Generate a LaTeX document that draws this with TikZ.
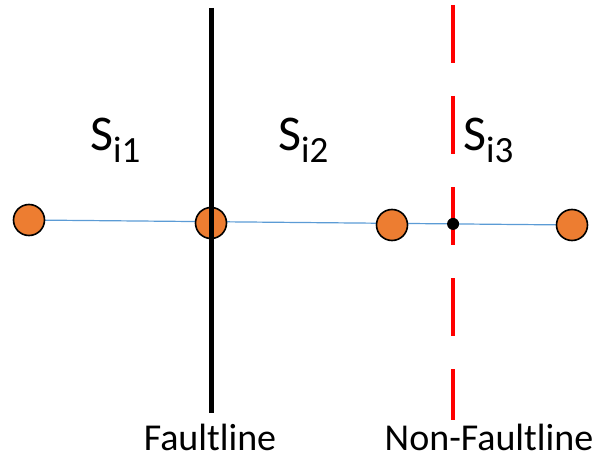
\documentclass[tikz,border=0pt]{standalone}
\usepackage{fontspec}
\setmainfont{Carlito}
\usetikzlibrary{calc}
\definecolor{cpoint}{HTML}{ED7D31}
\definecolor{cline}{HTML}{5B9BD5}
\newcommand{\segname}[1]{\fontsize{50}{50}\selectfont S\raisebox{-12pt}{\fontsize{37}{37}\selectfont #1}}

\begin{document}
\begin{tikzpicture}[x=1pt,y=-1pt,
    pt/.style={circle,draw=black,line width=1.6pt,fill=cpoint,minimum size=31pt,inner sep=0pt},
    lbl/.style={font=\fontsize{38}{44}\selectfont,anchor=base,inner sep=0pt}]
    \useasboundingbox (0,0) rectangle (596,457);
    \coordinate (a1) at (29,220);
    \coordinate (a4) at (572,225);
    \draw[cline,line width=1.2pt] (a1)--(a4);
    \node[pt] (p1) at (a1) {};
    \node[pt] (p2) at (211,223) {};
    \node[pt] (p3) at (392,225) {};
    \node[pt] (p4) at (a4) {};
    % fault lines
    \coordinate (f1) at (211,8);
    \coordinate (f2) at (211,413);
    \draw[black,line width=5pt] (f1)--(f2);
    \coordinate (n1) at (453,5);
    \coordinate (n2) at (453,420);
    \draw[red,line width=4pt,dash pattern=on 58pt off 33pt] (n1)--(n2);
    \node[circle,fill=black,inner sep=0pt,minimum size=12pt] (x) at ($(a1)!0.781!(a4)$) {};
    % labels
    \node[anchor=base west,inner sep=0pt] (s1) at (90,150) {\segname{i1}};
    \node[anchor=base west,inner sep=0pt] (s2) at (278,150) {\segname{i2}};
    \node[anchor=base west,inner sep=0pt] (s3) at (463,150) {\segname{i3}};
    \node[lbl] (fl) at (210,450) {Faultline};
    \node[lbl] (nfl) at (489,450) {Non-Faultline};
  \end{tikzpicture}
\end{document}
